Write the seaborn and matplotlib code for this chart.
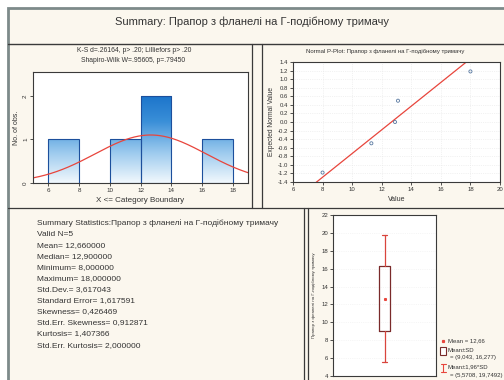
import numpy as np
import pandas as pd
import matplotlib
matplotlib.use("Agg")
import matplotlib.pyplot as plt
import seaborn as sns
from matplotlib.patches import Rectangle
from matplotlib.lines import Line2D
from matplotlib.colors import LinearSegmentedColormap

# ---------------- data ----------------
values = [8.0, 11.3, 12.9, 13.1, 18.0]
bin_edges = [6, 8, 10, 12, 14, 16, 18]
hist_xticks = [6, 8, 10, 12, 14, 16, 18]
hist_yticks = [0, 1, 2]
pplot_xticks = [6, 8, 10, 12, 14, 16, 18, 20]
pplot_yticks = [-1.4, -1.2, -1.0, -0.8, -0.6, -0.4, -0.2, 0.0, 0.2, 0.4, 0.6, 0.8, 1.0, 1.2, 1.4]
expected_normal = [-1.18, -0.497, 0.0, 0.497, 1.18]
box_yticks = [4, 6, 8, 10, 12, 14, 16, 18, 20, 22]
mean_val = 12.66
sd_val = 3.617043
box_lo, box_hi = 9.043, 16.277
whisk_lo, whisk_hi = 5.5708, 19.7492

main_title = "Summary: Прапор з фланелі на Г-подібному тримачу"
hist_title = ["K-S d=.26164, p> .20; Lilliefors p> .20", "Shapiro-Wilk W=.95605, p=.79450"]
pplot_title = "Normal P-Plot: Прапор з фланелі на Г-подібному тримачу"
var_name = "Прапор з фланелі на Г-подібному тримачу"
stats_lines = [
    "Summary Statistics:Прапор з фланелі на Г-подібному тримачу",
    "Valid N=5",
    "Mean= 12,660000",
    "Median= 12,900000",
    "Minimum= 8,000000",
    "Maximum= 18,000000",
    "Std.Dev.= 3,617043",
    "Standard Error= 1,617591",
    "Skewness= 0,426469",
    "Std.Err. Skewness= 0,912871",
    "Kurtosis= 1,407366",
    "Std.Err. Kurtosis= 2,000000",
]
legend_lines = ["Mean = 12,66", "Mean±SD", "= (9,043, 16,277)", "Mean±1,96*SD", "= (5,5708, 19,7492)"]

# ---------------- style ----------------
sns.set_style("ticks")
plt.rcParams["font.family"] = ["Liberation Sans", "DejaVu Sans"]
plt.rcParams["axes.linewidth"] = 0.8
plt.rcParams["xtick.major.size"] = 2
plt.rcParams["ytick.major.size"] = 2
plt.rcParams["xtick.major.width"] = 0.6
plt.rcParams["ytick.major.width"] = 0.6
plt.rcParams["xtick.major.pad"] = 1.5
plt.rcParams["ytick.major.pad"] = 1.5

W, H = 504, 380
CREAM = "#fbf7ee"
FRAME = "#3a3a3a"
TXT = "#333333"
RED = "#e8453c"

fig = plt.figure(figsize=(W / 100, H / 100), dpi=100, facecolor="white")


def fx(x):
    return x / W


def fy(y):
    return 1 - y / H


def box_px(l, t, r, b):
    return [fx(l), fy(b), (r - l) / W, (b - t) / H]


def hline(y, x0, x1, color=FRAME, lw=0.9):
    fig.add_artist(Line2D([fx(x0), fx(x1)], [fy(y), fy(y)], transform=fig.transFigure, color=color, lw=lw))


def vline(x, y0, y1, color=FRAME, lw=0.9):
    fig.add_artist(Line2D([fx(x), fx(x)], [fy(y0), fy(y1)], transform=fig.transFigure, color=color, lw=lw))


# background + outer border
fig.add_artist(Rectangle((fx(8), fy(390)), 1, (390 - 8) / H, transform=fig.transFigure,
                         facecolor=CREAM, edgecolor="#7d8a8a", lw=2, zorder=-10))
fig.text(0.5, fy(22), main_title, ha="center", va="center", fontsize=8.0, color=TXT)
hline(43.5, 8, 504, lw=1.0)
vline(252, 43.5, 208)
vline(262, 43.5, 208)
hline(208, 8, 504)
vline(304, 208, 380)
vline(308, 208, 380)

# ---------------- histogram ----------------
ax1 = fig.add_axes(box_px(33, 72, 248, 183))
ax1.set_facecolor("white")
counts = pd.cut(pd.Series(values), bins=bin_edges, right=True).value_counts(sort=False).values
edges = np.array(bin_edges, dtype=float)
centers = (edges[:-1] + edges[1:]) / 2
sns.histplot(x=centers, weights=counts, bins=bin_edges, ax=ax1, stat="count",
             color="#4a90d8", edgecolor="#1c4f9c", linewidth=0.8, alpha=1)
cmap = LinearSegmentedColormap.from_list("g", ["#f2f8fd", "#9ccaee", "#3a8fd8", "#1670c8"])
grad = np.linspace(0, 1, 256).reshape(-1, 1)
for p in list(ax1.patches):
    h = p.get_height()
    if h > 0:
        x0 = p.get_x()
        im = ax1.imshow(grad, extent=[x0, x0 + p.get_width(), 0, 2.1], aspect="auto",
                        cmap=cmap, origin="lower", zorder=p.get_zorder() - 0.01,
                        vmin=0, vmax=1)
        im.set_clip_path(p)
        p.set_facecolor("none")
    else:
        p.set_visible(False)
xs = np.linspace(5, 19, 300)
ys = len(values) * 2 * np.exp(-0.5 * ((xs - mean_val) / sd_val) ** 2) / (sd_val * np.sqrt(2 * np.pi))
sns.lineplot(x=xs, y=ys, ax=ax1, color=RED, lw=0.9)
ax1.set_xlim(5, 19)
ax1.set_ylim(0, 2.55)
ax1.set_xticks(hist_xticks)
ax1.set_yticks(hist_yticks)
ax1.set_yticklabels([str(v) for v in hist_yticks], rotation=90, va="center")
ax1.tick_params(labelsize=4.5, colors=TXT)
ax1.set_xlabel("X <= Category Boundary", fontsize=5.8, color=TXT, labelpad=3)
ax1.set_ylabel("No. of obs.", fontsize=5, color=TXT, labelpad=2)
for s in ax1.spines.values():
    s.set_visible(True)
    s.set_color(FRAME)
fig.text(fx(134), fy(50), hist_title[0], ha="center", va="center", fontsize=4.9, color=TXT)
fig.text(fx(133), fy(60), hist_title[1], ha="center", va="center", fontsize=4.9, color=TXT)

# ---------------- normal P-plot ----------------
ax2 = fig.add_axes(box_px(293, 62, 500, 182))
ax2.set_facecolor("white")
ax2.grid(True, color="#e6e6e6", lw=0.5, ls=":")
lx = np.array([6.0, 20.0])
sns.lineplot(x=lx, y=(lx - mean_val) / sd_val, ax=ax2, color=RED, lw=0.9)
sns.scatterplot(x=values, y=expected_normal, ax=ax2, marker="o", s=5,
                facecolor="none", edgecolor="#5878a0", linewidth=0.6, zorder=5)
ax2.set_xlim(6, 20)
ax2.set_ylim(-1.4, 1.4)
ax2.set_xticks(pplot_xticks)
ax2.set_yticks(pplot_yticks)
ax2.set_yticklabels([f"{v:.1f}" for v in pplot_yticks])
ax2.tick_params(labelsize=4.3, colors=TXT)
ax2.set_xlabel("Value", fontsize=5, color=TXT, labelpad=3)
ax2.set_ylabel("Expected Normal Value", fontsize=4.8, color=TXT, labelpad=2)
for s in ax2.spines.values():
    s.set_visible(True)
    s.set_color(FRAME)
fig.text(fx(385), fy(52), pplot_title, ha="center", va="center", fontsize=4.3, color=TXT)

# ---------------- statistics text ----------------
for i, line in enumerate(stats_lines):
    fig.text(fx(37), fy(223 + i * 11.1), line, ha="left", va="center", fontsize=6.0, color=TXT)

# ---------------- box plot ----------------
ax3 = fig.add_axes(box_px(333, 215, 436, 376))
ax3.set_facecolor("white")
ax3.grid(True, axis="y", color="#eeeeee", lw=0.5, ls=":")
bstats = [{"med": mean_val, "q1": box_lo, "q3": box_hi, "whislo": whisk_lo, "whishi": whisk_hi,
           "mean": mean_val, "fliers": []}]
ax3.bxp(bstats, positions=[0], widths=0.1, showmeans=True, showfliers=False,
        boxprops=dict(color="#7a2a2a", lw=0.9),
        whiskerprops=dict(color="#d9443c", lw=0.9),
        capprops=dict(color="#d9443c", lw=0.9),
        medianprops=dict(visible=False),
        meanprops=dict(marker="s", markersize=1.2, markerfacecolor=RED, markeredgecolor=RED))
ax3.set_xlim(-0.5, 0.5)
ax3.set_ylim(4, 22)
ax3.set_xticks([])
ax3.set_yticks(box_yticks)
ax3.tick_params(labelsize=4.3, colors=TXT)
ax3.set_ylabel(var_name, fontsize=3.2, color=TXT, labelpad=4)
for s in ax3.spines.values():
    s.set_visible(True)
    s.set_color(FRAME)

# legend
fig.add_artist(Line2D([fx(443)], [fy(341)], transform=fig.transFigure, marker="s",
                      markersize=1.3, color=RED, ls="none"))
fig.add_artist(Rectangle((fx(440), fy(355)), 6 / W, 8 / H, transform=fig.transFigure,
                         facecolor="white", edgecolor="#7a2a2a", lw=0.8))
fig.add_artist(Line2D([fx(443), fx(443)], [fy(364), fy(372)], transform=fig.transFigure, color=RED, lw=0.8))
fig.add_artist(Line2D([fx(440.5), fx(445.5)], [fy(364), fy(364)], transform=fig.transFigure, color=RED, lw=0.8))
fig.add_artist(Line2D([fx(440.5), fx(445.5)], [fy(372), fy(372)], transform=fig.transFigure, color=RED, lw=0.8))
fig.text(fx(448), fy(341), legend_lines[0], fontsize=4.3, color=TXT, va="center")
fig.text(fx(448), fy(350), legend_lines[1], fontsize=4.3, color=TXT, va="center")
fig.text(fx(450), fy(358), legend_lines[2], fontsize=4.3, color=TXT, va="center")
fig.text(fx(448), fy(367), legend_lines[3], fontsize=4.3, color=TXT, va="center")
fig.text(fx(450), fy(375), legend_lines[4], fontsize=4.3, color=TXT, va="center")

fig.savefig("out.png", dpi=100, facecolor=fig.get_facecolor())
